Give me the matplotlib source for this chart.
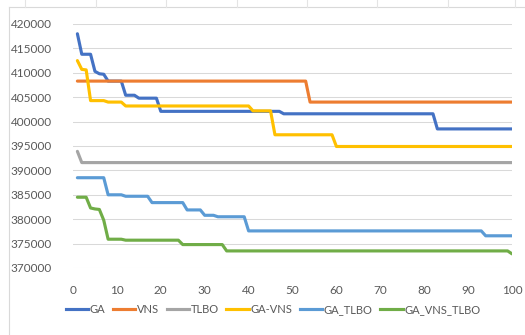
import matplotlib.pyplot as plt
import numpy as np
from matplotlib.lines import Line2D

plt.rcParams['font.family'] = ['Lato', 'DejaVu Sans']

iters = np.arange(1, 101)


def steps(pairs):
    # expand (last_iteration, value) pairs into one value per iteration
    out = []
    start = 1
    for last, val in pairs:
        out += [val] * (last - start + 1)
        start = last + 1
    return out


ga = steps([(1, 418000), (4, 413800), (5, 410300), (6, 409800), (7, 409700),
            (11, 408300), (14, 405400), (19, 404800), (47, 402100),
            (82, 401600), (100, 398500)])
vns = steps([(53, 408300), (100, 404000)])
tlbo = steps([(1, 393900), (100, 391600)])
ga_vns = steps([(1, 412500), (2, 410700), (3, 410600), (7, 404300),
                (11, 404000), (40, 403200), (45, 402200), (59, 397300),
                (100, 394900)])
ga_tlbo = steps([(7, 388500), (11, 385000), (17, 384700), (25, 383400),
                 (29, 381900), (32, 380800), (39, 380500), (93, 377600),
                 (100, 376600)])
ga_vns_tlbo = steps([(3, 384500), (4, 382300), (5, 382100), (6, 382000),
                     (7, 379800), (11, 375900), (24, 375700), (34, 374800),
                     (99, 373500), (100, 372900)])

names = ['GA', 'VNS', 'TLBO', 'GA-VNS', 'GA_TLBO', 'GA_VNS_TLBO']
series = [ga, vns, tlbo, ga_vns, ga_tlbo, ga_vns_tlbo]
colors = ['#4472C4', '#ED7D31', '#A5A5A5', '#FFC000', '#5B9BD5', '#70AD47']

fig = plt.figure(figsize=(5.25, 3.35), dpi=100)
ax = fig.add_axes([73 / 525, 67 / 335, 439 / 525, 244 / 335])

for name, vals, c in zip(names, series, colors):
    ax.plot(iters, vals, color=c, lw=2.25, label=name, solid_capstyle='round')

ax.set_xlim(0, 100)
ax.set_ylim(370000, 420000)
ax.set_xticks(range(0, 101, 10))
ax.set_yticks(range(370000, 420001, 5000))
ax.grid(axis='y', color='#D9D9D9', lw=0.75)
ax.set_axisbelow(True)
for s in ax.spines.values():
    s.set_visible(False)
ax.tick_params(length=0, labelsize=8.5, colors='#595959')
ax.tick_params(axis='y', pad=15)
ax.tick_params(axis='x', pad=12)

handles = [Line2D([], [], color=c, lw=2.25) for c in colors]
fig.legend(handles, names, loc='center', bbox_to_anchor=(273 / 525, 0.075),
           ncol=6, frameon=False, fontsize=8, labelcolor='#595959',
           handlelength=2.0, handletextpad=0.15, columnspacing=0.7)

# chart frame and sheet cell lines above it
fig.add_artist(Line2D([9 / 525, 9 / 525], [0, 328 / 335], color='#D9D9D9', lw=0.8))
fig.add_artist(Line2D([9 / 525, 1], [328 / 335, 328 / 335], color='#D9D9D9', lw=0.8))
for xp in [25, 96, 166, 237, 307, 377, 448, 515]:
    fig.add_artist(Line2D([xp / 525, xp / 525], [328 / 335, 1], color='#E4E4E4', lw=0.8))

fig.savefig('out.png', dpi=100)
